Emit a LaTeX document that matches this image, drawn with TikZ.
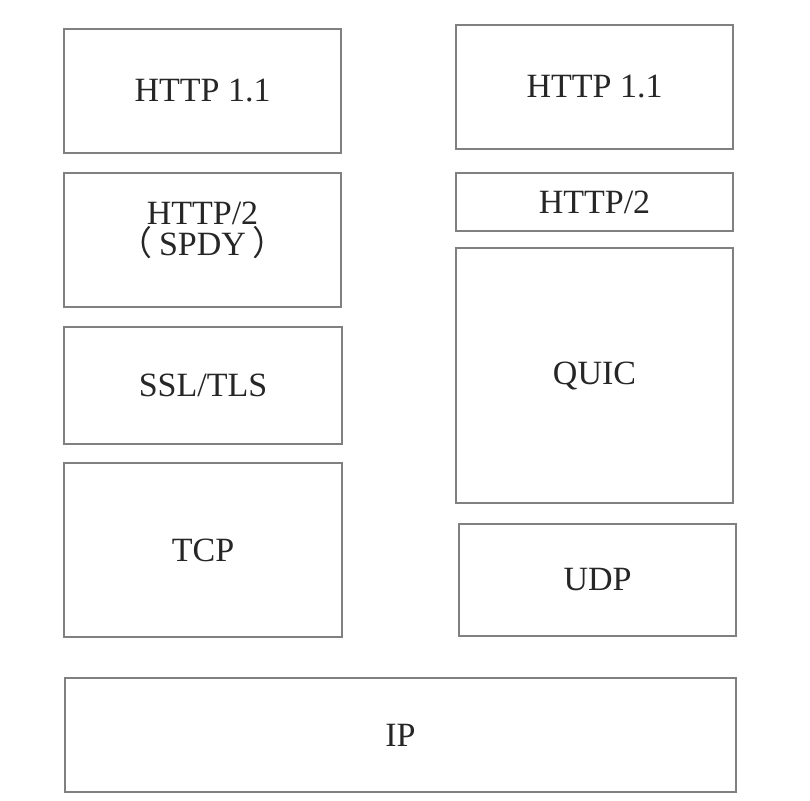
\documentclass[tikz,border=0pt]{standalone}
\usepackage{fontspec}
\setmainfont{Liberation Serif}
\newfontfamily\cjk{Noto Sans CJK SC}
\begin{document}
\begin{tikzpicture}[x=1pt,y=-1pt,
  layer/.style={draw=black!50, line width=1.3pt, inner sep=0pt, outer sep=0pt,
    minimum width=277pt, text=black!85, font=\fontsize{34}{40}\selectfont, align=center},
  lbl/.style={text=black!85, font=\fontsize{34}{31}\selectfont, align=center, inner sep=0pt}]
\useasboundingbox (0,0) rectangle (810,800);
% left stack
\node[layer, minimum height=124pt] (lhttp) at (202.5,91) {HTTP 1.1};
\node[layer, minimum height=134pt] (lhttp2) at (202.5,240) {};
\node[lbl] (lhttp2t) at (202.5,230) {HTTP/2\\{\cjk （}\kern7pt SPDY\kern7pt{\cjk ）}};
\node[layer, minimum width=278pt, minimum height=117pt] (ssl) at (203,385.5) {SSL/TLS};
\node[layer, minimum width=278pt, minimum height=174pt] (tcp) at (203,550) {TCP};
% right stack
\node[layer, minimum height=124pt] (rhttp) at (594.5,87) {HTTP 1.1};
\node[layer, minimum height=58pt] (rhttp2) at (594.5,202) {HTTP/2};
\node[layer, minimum height=255pt] (quic) at (594.5,375.5) {QUIC};
\node[layer, minimum height=112pt] (udp) at (597.5,580) {UDP};
% bottom
\node[layer, minimum width=671pt, minimum height=114pt] (ip) at (400.5,735) {IP};
\end{tikzpicture}
\end{document}
